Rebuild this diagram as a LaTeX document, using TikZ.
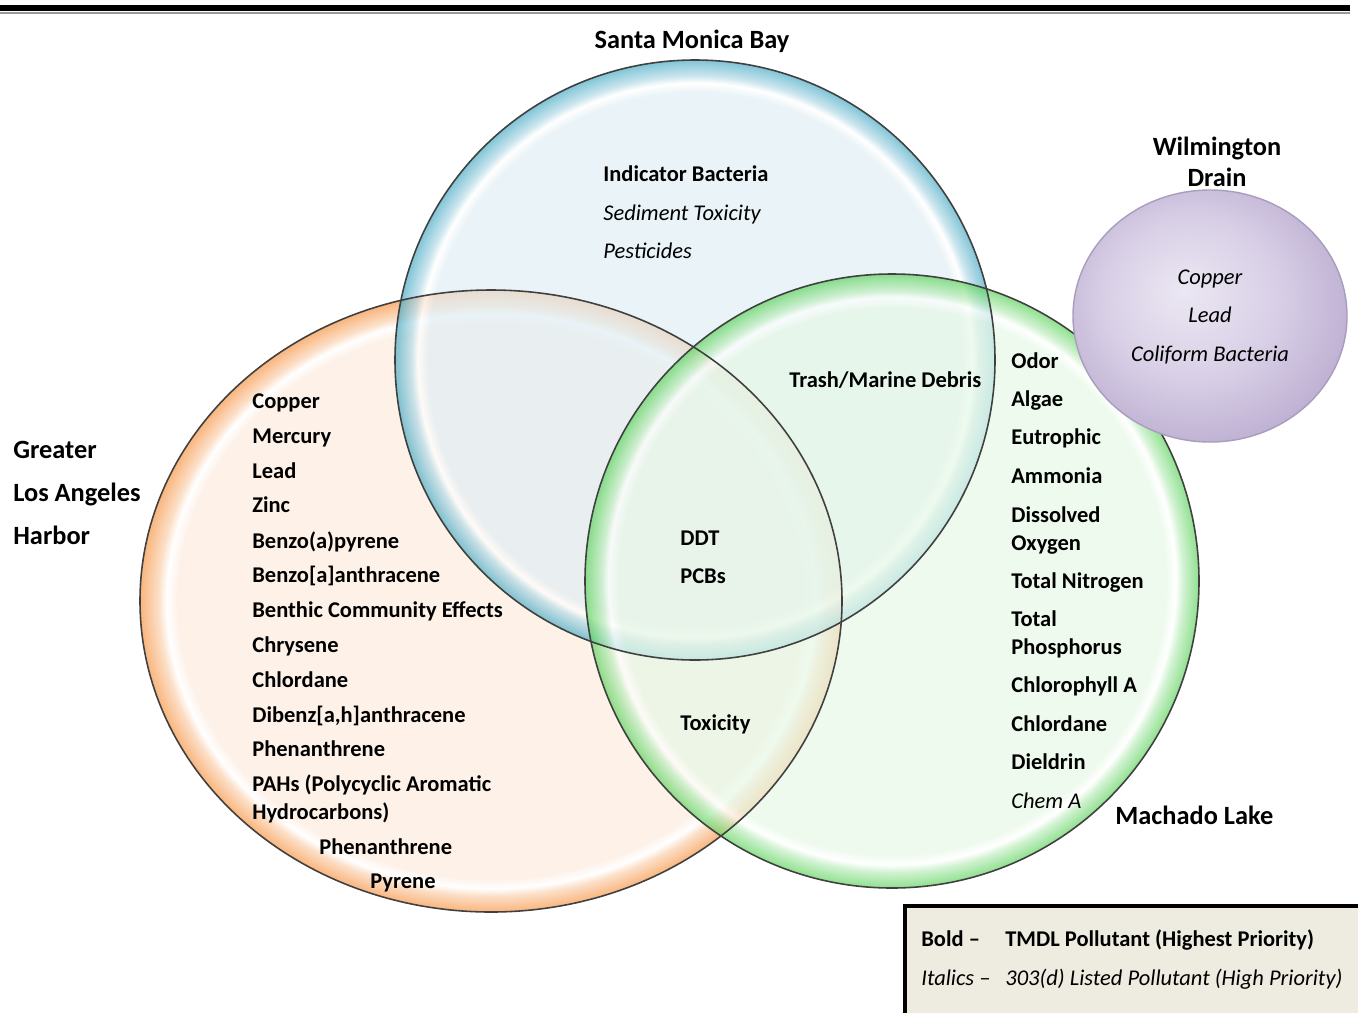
\documentclass[tikz,border=0pt]{standalone}
\usepackage{fontspec}
\setmainfont{Carlito}
\usepackage{xcolor}
\usepackage{tikz}
\usetikzlibrary{positioning,calc}

\definecolor{smbIn}{HTML}{E1EEF4}
\definecolor{smbRim}{HTML}{4BACC6}
\definecolor{lahIn}{HTML}{FCEBDE}
\definecolor{lahRim}{HTML}{F79646}
\definecolor{mlIn}{HTML}{E7F8E7}
\definecolor{mlRim}{HTML}{5FD35F}
\definecolor{wdIn}{HTML}{D8CFE6}
\definecolor{wdRim}{HTML}{B4A4CB}
\definecolor{keyfill}{HTML}{EEECE1}

\pgfdeclareradialshading{smbshade}{\pgfpoint{0bp}{0bp}}{color(0bp)=(smbIn); color(22.3bp)=(smbIn); color(23.1bp)=(white); color(23.7bp)=(smbRim!30!smbIn); color(25bp)=(smbRim); color(50bp)=(smbRim)}
\pgfdeclareradialshading{lahshade}{\pgfpoint{0bp}{0bp}}{color(0bp)=(lahIn); color(22.3bp)=(lahIn); color(23.1bp)=(white); color(23.7bp)=(lahRim!30!lahIn); color(25bp)=(lahRim); color(50bp)=(lahRim)}
\pgfdeclareradialshading{mlshade}{\pgfpoint{0bp}{0bp}}{color(0bp)=(mlIn); color(22.3bp)=(mlIn); color(23.1bp)=(white); color(23.7bp)=(mlRim!30!mlIn); color(25bp)=(mlRim); color(50bp)=(mlRim)}
\pgfdeclareradialshading{wdshade}{\pgfpoint{-5bp}{5bp}}{color(0bp)=(wdIn!50!white); color(16bp)=(wdIn); color(28bp)=(wdRim!70!wdIn); color(50bp)=(wdRim)}

\begin{document}
\begin{tikzpicture}[x=0.02cm,y=-0.02cm,
  item/.style={anchor=west, inner sep=0, font=\bfseries\fontsize{12.8}{14}\selectfont, text height=9pt, text depth=2.8pt},
  itemit/.style={item, font=\itshape\fontsize{12.8}{14}\selectfont},
  title/.style={inner sep=0, font=\bfseries\fontsize{15}{18}\selectfont},
  rim/.style={draw=black!75, line width=0.9pt}]
\useasboundingbox (0,0) rectangle (1358,1012);

% top rule
\draw[line width=3.4pt] (0,8) -- (1350,8);
\draw[black!40, line width=1.2pt] (0,13) -- (1350,13);

% the bubbles
\shade[shading=lahshade, opacity=0.7] (491,601) ellipse [x radius=351, y radius=311];
\shade[shading=smbshade, opacity=0.7] (695,360) circle [radius=300];
\shade[shading=mlshade, opacity=0.7] (892,581) circle [radius=307];
\draw[rim] (491,601) ellipse [x radius=351, y radius=311];
\draw[rim] (695,360) circle [radius=300];
\draw[rim] (892,581) circle [radius=307];
\shade[shading=wdshade, draw=wdRim!80!gray, line width=0.8pt] (1210,316) ellipse [x radius=137, y radius=126];

% water bodies
\node[title] (smb) at (692,41) {Santa Monica Bay};
\node[title, align=center] (wd) at (1217,162) {Wilmington\\Drain};
\node[title, anchor=west, align=left, font=\bfseries\fontsize{15}{24.5}\selectfont] (lah) at (13,493) {Greater\\Los Angeles\\Harbor};
\node[title, anchor=west] (ml) at (1115,815) {Machado Lake};

% Santa Monica Bay only
\node[item] (smb1) at (603,176) {Indicator Bacteria};
\node[itemit] (smb2) at (603,215) {Sediment Toxicity};
\node[itemit] (smb3) at (603,253) {Pesticides};

% overlaps
\node[item] (trash) at (789,382) {Trash/Marine Debris};
\node[item] (ddt) at (680,540) {DDT};
\node[item] (pcb) at (680,578) {PCBs};
\node[item] (tox) at (680,725) {Toxicity};

% harbor only
\foreach \txt/\yy [count=\i] in {Copper/403, Mercury/438, Lead/473, Zinc/507,
    Benzo(a)pyrene/543, Benzo[a]anthracene/577, Benthic Community Effects/612,
    Chrysene/647, Chlordane/682, {Dibenz[a,h]anthracene}/717, Phenanthrene/751,
    PAHs (Polycyclic Aromatic/786, Hydrocarbons)/814}
  \node[item] (lah\i) at (252,\yy) {\txt};
\node[item] (lah14) at (319,849) {Phenanthrene};
\node[item] (lah15) at (370,883) {Pyrene};

% Machado Lake only
\foreach \txt/\yy [count=\i] in {Odor/363, Algae/401, Eutrophic/439, Ammonia/478,
    Dissolved/517, Oxygen/545, Total Nitrogen/583, Total/621, Phosphorus/649,
    Chlorophyll A/687, Chlordane/726, Dieldrin/764}
  \node[item] (ml\i) at (1011,\yy) {\txt};
\node[itemit] (ml13) at (1011,803) {Chem A};

% Wilmington Drain
\node[itemit, anchor=center] (wd1) at (1210,279) {Copper};
\node[itemit, anchor=center] (wd2) at (1210,317) {Lead};
\node[itemit, anchor=center] (wd3) at (1210,356) {Coliform Bacteria};

% key
\draw[line width=2.5pt, fill=keyfill] (905,906) rectangle (1368,1018);
\node[item] (k1) at (921,941) {Bold --};
\node[item] (k1t) at (1005,941) {TMDL Pollutant (Highest Priority)};
\node[itemit] (k2) at (921,980) {Italics --};
\node[itemit] (k2t) at (1005,980) {303(d) Listed Pollutant (High Priority)};
\end{tikzpicture}
\end{document}
